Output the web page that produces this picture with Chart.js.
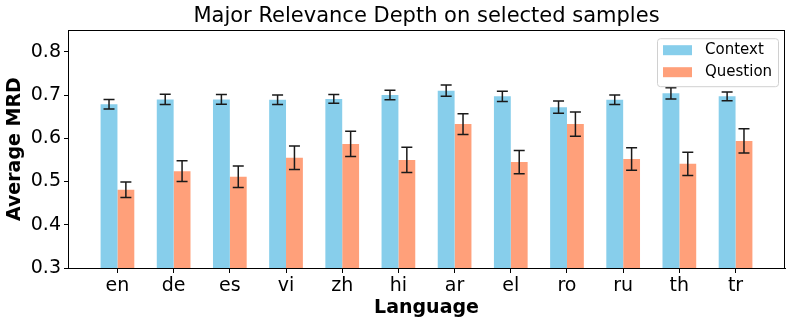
<!DOCTYPE html>
<html>
<head>
<meta charset="utf-8">
<script src="https://cdn.jsdelivr.net/npm/chart.js@4.4.1/dist/chart.umd.min.js"></script>
<style>
  body { margin: 0; background: #fff; }
  #wrap { width: 793px; height: 325px; }
</style>
</head>
<body>
<div id="wrap"><canvas id="mrdChart"></canvas></div>
<script>
const languages = ['en', 'de', 'es', 'vi', 'zh', 'hi', 'ar', 'el', 'ro', 'ru', 'th', 'tr'];
const contextMrd = [0.679, 0.690, 0.690, 0.689, 0.691, 0.700, 0.710, 0.697, 0.672, 0.689, 0.704, 0.697];
const contextErr = [0.011, 0.012, 0.011, 0.011, 0.010, 0.011, 0.013, 0.012, 0.014, 0.011, 0.013, 0.010];
const questionMrd = [0.481, 0.524, 0.511, 0.555, 0.587, 0.550, 0.633, 0.545, 0.633, 0.552, 0.541, 0.594];
const questionErr = [0.018, 0.024, 0.025, 0.027, 0.029, 0.029, 0.024, 0.027, 0.028, 0.026, 0.027, 0.028];
const yTicks = [0.3, 0.4, 0.5, 0.6, 0.7, 0.8];

const FONT = 'DejaVu Sans';

// error bars drawn from the value scale
const errorBars = {
	id: 'errorBars',
	afterDatasetsDraw(chart) {
		const ctx = chart.ctx;
		const yScale = chart.scales.y;
		ctx.save();
		ctx.strokeStyle = '#1a1a1a';
		ctx.lineWidth = 1.5;
		chart.data.datasets.forEach((ds, i) => {
			chart.getDatasetMeta(i).data.forEach((bar, j) => {
				const v = ds.data[j].y;
				const e = ds.errors[j];
				const top = yScale.getPixelForValue(v + e);
				const bot = yScale.getPixelForValue(v - e);
				ctx.beginPath();
				ctx.moveTo(bar.x, top);
				ctx.lineTo(bar.x, bot);
				ctx.moveTo(bar.x - 5.5, top);
				ctx.lineTo(bar.x + 5.5, top);
				ctx.moveTo(bar.x - 5.5, bot);
				ctx.lineTo(bar.x + 5.5, bot);
				ctx.stroke();
			});
		});
		ctx.restore();
	},
};

// full box frame and legend inside the plot
const frameLegend = {
	id: 'frameLegend',
	afterDraw(chart) {
		const ctx = chart.ctx;
		const a = chart.chartArea;
		ctx.save();
		ctx.strokeStyle = '#000';
		ctx.lineWidth = 1;
		ctx.strokeRect(Math.round(a.left) + 0.5, Math.round(a.top) + 0.5,
			Math.round(a.right - a.left) - 1, Math.round(a.bottom - a.top));

		const w = 121, h = 48;
		const x = a.right - 7 - w, y = a.top + 8;
		ctx.beginPath();
		ctx.roundRect(x + 0.5, y + 0.5, w, h, 3);
		ctx.fillStyle = 'rgba(255,255,255,0.8)';
		ctx.fill();
		ctx.strokeStyle = '#d0d0d0';
		ctx.stroke();

		ctx.font = '15px "' + FONT + '"';
		ctx.textBaseline = 'middle';
		chart.data.datasets.forEach((ds, i) => {
			const ry = y + 12 + i * 22;
			ctx.fillStyle = ds.backgroundColor;
			ctx.fillRect(x + 6, ry - 5, 29, 10);
			ctx.fillStyle = '#000';
			ctx.fillText(ds.label, x + 48, ry);
		});
		ctx.restore();
	},
};

new Chart(document.getElementById('mrdChart'), {
	type: 'bar',
	data: {
		datasets: [
			{
				label: 'Context',
				data: contextMrd.map((v, i) => ({ x: i, y: v })),
				errors: contextErr,
				backgroundColor: '#87CEEB',
				borderWidth: 0,
			},
			{
				label: 'Question',
				data: questionMrd.map((v, i) => ({ x: i, y: v })),
				errors: questionErr,
				backgroundColor: '#FFA07A',
				borderWidth: 0,
			},
		],
	},
	options: {
		responsive: true,
		maintainAspectRatio: false,
		animation: false,
		categoryPercentage: 0.6,
		barPercentage: 1.0,
		layout: {
			padding: { right: 8 },
		},
		plugins: {
			legend: { display: false },
			tooltip: { enabled: false },
			title: {
				display: true,
				text: 'Major Relevance Depth on selected samples',
				fullSize: false,
				color: '#000',
				font: { family: FONT, size: 21, weight: 'normal' },
				padding: { top: 4, bottom: 1 },
			},
		},
		scales: {
			x: {
				type: 'linear',
				min: -0.88,
				max: 11.88,
				offset: false,
				afterBuildTicks: (axis) => {
					axis.ticks = languages.map((_, i) => ({ value: i }));
				},
				afterFit: (axis) => {
					axis.height = 57;
				},
				ticks: {
					autoSkip: false,
					maxRotation: 0,
					padding: 2,
					color: '#000',
					font: { family: FONT, size: 19 },
					callback: (v) => languages[v],
				},
				grid: {
					offset: false,
					drawOnChartArea: false,
					tickLength: 5,
					color: '#000',
				},
				border: { color: '#000' },
				title: {
					display: true,
					text: 'Language',
					color: '#000',
					font: { family: FONT, size: 19, weight: 'bold' },
					padding: { top: 6, bottom: 6 },
				},
			},
			y: {
				min: 0.3,
				max: 0.85,
				afterBuildTicks: (axis) => {
					axis.ticks = yTicks.map((v) => ({ value: v }));
				},
				afterFit: (axis) => {
					axis.width = 68;
				},
				ticks: {
					padding: 3,
					color: '#000',
					font: { family: FONT, size: 19 },
					callback: (v) => v.toFixed(1),
				},
				grid: {
					drawOnChartArea: false,
					tickLength: 4,
					color: '#000',
				},
				border: { color: '#000' },
				title: {
					display: true,
					text: 'Average MRD',
					color: '#000',
					font: { family: FONT, size: 19, weight: 'bold' },
					padding: { top: 4, bottom: 4 },
				},
			},
		},
	},
	plugins: [errorBars, frameLegend],
});
</script>
</body>
</html>
